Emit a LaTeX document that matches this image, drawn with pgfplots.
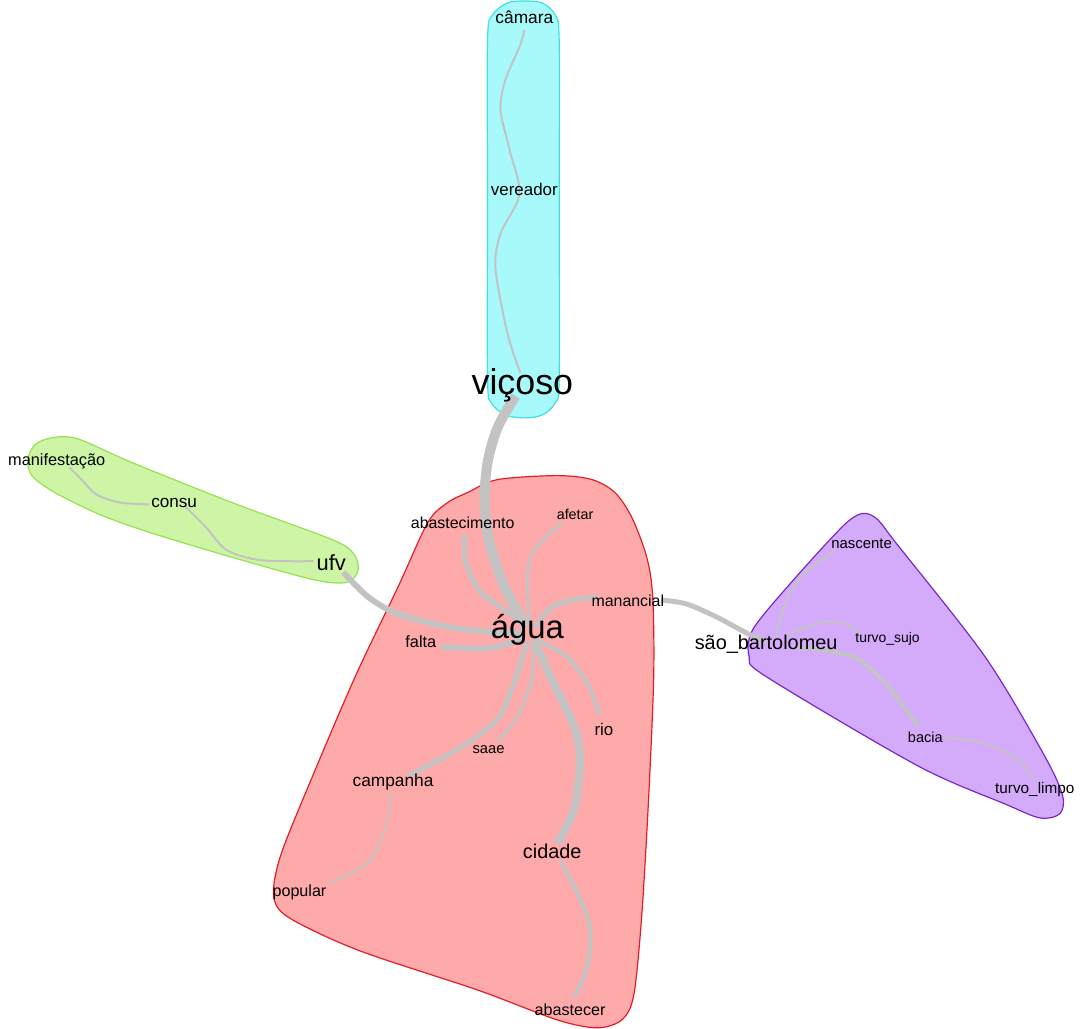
\documentclass[border=0pt]{standalone}
\usepackage{fontspec}
\setmainfont{Liberation Sans}
\usepackage{pgfplots}
\usepackage{pgfplotstable}
\pgfplotsset{compat=1.18}

\definecolor{cyanfill}{RGB}{168,250,250}
\definecolor{cyanline}{RGB}{60,225,225}
\definecolor{greenfill}{RGB}{205,245,165}
\definecolor{greenline}{RGB}{150,225,80}
\definecolor{redfill}{RGB}{255,170,170}
\definecolor{redline}{RGB}{225,30,40}
\definecolor{purplefill}{RGB}{212,170,250}
\definecolor{purpleline}{RGB}{120,40,200}
\definecolor{edge}{RGB}{195,195,195}

% word positions in pixels (y downwards), font size in pt
\pgfplotstableread{
x    y    fs   label
527  17   8.7  câmara
527  190  8.5  vereador
525  387  18   viçoso
57   464  8.2  manifestação
175  506  8.6  consu
333  566  11   ufv
465  525  8    abastecimento
578  517  7.2  afetar
631  604  8    manancial
530  633  16.5 água
423  645  8.2  falta
607  733  8.5  rio
491  753  7.4  saae
395  786  8.7  campanha
555  856  10   cidade
301  897  8.1  popular
573  1015 8.1  abastecer
866  546  7.5  nascente
770  648  10   {são\_bartolomeu}
892  642  7    {turvo\_sujo}
930  741  7.3  bacia
1040 794  7.7  {turvo\_limpo}
}\words

\begin{document}
\begin{tikzpicture}
\begin{axis}[
    scale only axis,
    width=540.5pt, height=517pt,
    xmin=0, xmax=1081, ymin=0, ymax=1034,
    y dir=reverse,
    hide axis,
    clip=false,
]
% clusters
\addplot[smooth cycle, fill=cyanfill, draw=cyanline, line width=0.6pt] coordinates {
    (490,40) (495,15) (510,3) (527,1) (545,3) (558,15) (562,40) (562,200)
    (562,380) (558,405) (545,417) (527,420) (508,417) (494,405) (490,380) (490,200)};
\addplot[smooth cycle, fill=greenfill, draw=greenline, line width=0.6pt] coordinates {
    (28,462) (35,447) (52,440) (78,441) (133,465) (233,505) (333,542) (355,556)
    (360,572) (350,585) (317,583) (233,560) (150,535) (100,517) (55,495) (32,478)};
\addplot[smooth cycle, fill=redfill, draw=redline, line width=0.6pt] coordinates {
    (470,495) (500,482) (560,478) (595,482) (618,495) (635,520) (650,560) (656,600)
    (657,680) (652,800) (645,920) (637,1000) (625,1025) (600,1033) (560,1025) (480,995)
    (360,955) (290,922) (275,900) (282,860) (310,790) (357,680) (400,590) (430,525) (450,505)};
\addplot[smooth cycle, fill=purplefill, draw=purpleline, line width=0.6pt] coordinates {
    (867,516) (882,522) (900,545) (990,660) (1050,760) (1068,800) (1065,818) (1045,822)
    (1010,808) (923,770) (770,680) (753,660) (757,632) (800,580) (848,528)};

% edges
\addplot[smooth, edge, line width=5pt] coordinates {
    (518,398) (500,430) (490,465) (487,505) (492,545) (505,585) (520,615) (530,630)};
\addplot[smooth, edge, line width=1pt] coordinates {
    (523,375) (510,335) (498,270) (503,235) (522,195) (512,150) (503,110) (508,80) (523,45) (527,30)};
\addplot[smooth, edge, line width=3pt] coordinates {
    (345,575) (370,600) (400,617) (450,630) (493,635) (525,636)};
\addplot[smooth, edge, line width=1pt] coordinates {
    (315,564) (262,563) (228,553) (207,530) (185,508)};
\addplot[smooth, edge, line width=1pt] coordinates {
    (150,507) (120,505) (97,497) (82,482) (70,470)};
\addplot[smooth, edge, line width=2.5pt] coordinates {
    (467,537) (468,565) (483,595) (510,615) (530,628)};
\addplot[smooth, edge, line width=1.5pt] coordinates {
    (532,625) (530,580) (537,553) (565,525)};
\addplot[smooth, edge, line width=2.5pt] coordinates {
    (538,630) (555,610) (580,602) (600,601)};
\addplot[smooth, edge, line width=2.5pt] coordinates {
    (665,603) (690,607) (720,620) (750,636) (770,645)};
\addplot[smooth, edge, line width=3pt] coordinates {
    (525,642) (500,650) (483,652) (460,651) (443,650)};
\addplot[smooth, edge, line width=2pt] coordinates {
    (540,643) (570,660) (592,690) (602,718)};
\addplot[smooth, edge, line width=1.5pt] coordinates {
    (535,645) (535,680) (520,720) (500,745)};
\addplot[smooth, edge, line width=2.5pt] coordinates {
    (530,645) (517,685) (500,723) (460,753) (410,780)};
\addplot[smooth, edge, line width=4pt] coordinates {
    (537,643) (553,680) (577,730) (583,765) (577,813) (560,848)};
\addplot[smooth, edge, line width=1pt] coordinates {
    (393,797) (388,830) (370,867) (330,888)};
\addplot[smooth, edge, line width=2pt] coordinates {
    (563,865) (580,897) (593,933) (590,973) (577,1002)};
\addplot[smooth, edge, line width=1pt] coordinates {
    (780,640) (790,605) (807,577) (840,553)};
\addplot[smooth, edge, line width=1pt] coordinates {
    (790,638) (823,626) (850,627) (865,637)};
\addplot[smooth, edge, line width=2pt] coordinates {
    (800,650) (857,660) (890,687) (923,730)};
\addplot[smooth, edge, line width=1pt] coordinates {
    (950,741) (990,747) (1023,763) (1040,785)};

% words
\addplot[draw=none, mark=none,
    nodes near coords,
    point meta=explicit symbolic,
    visualization depends on={\thisrow{fs} \as \fs},
    nodes near coords style={anchor=center, text=black,
        font=\fontsize{\fs}{\fs}\selectfont},
] table[x=x, y=y, meta=label] {\words};
\end{axis}
\path (current axis.south west) rectangle (current axis.north east);
\end{tikzpicture}
\end{document}
